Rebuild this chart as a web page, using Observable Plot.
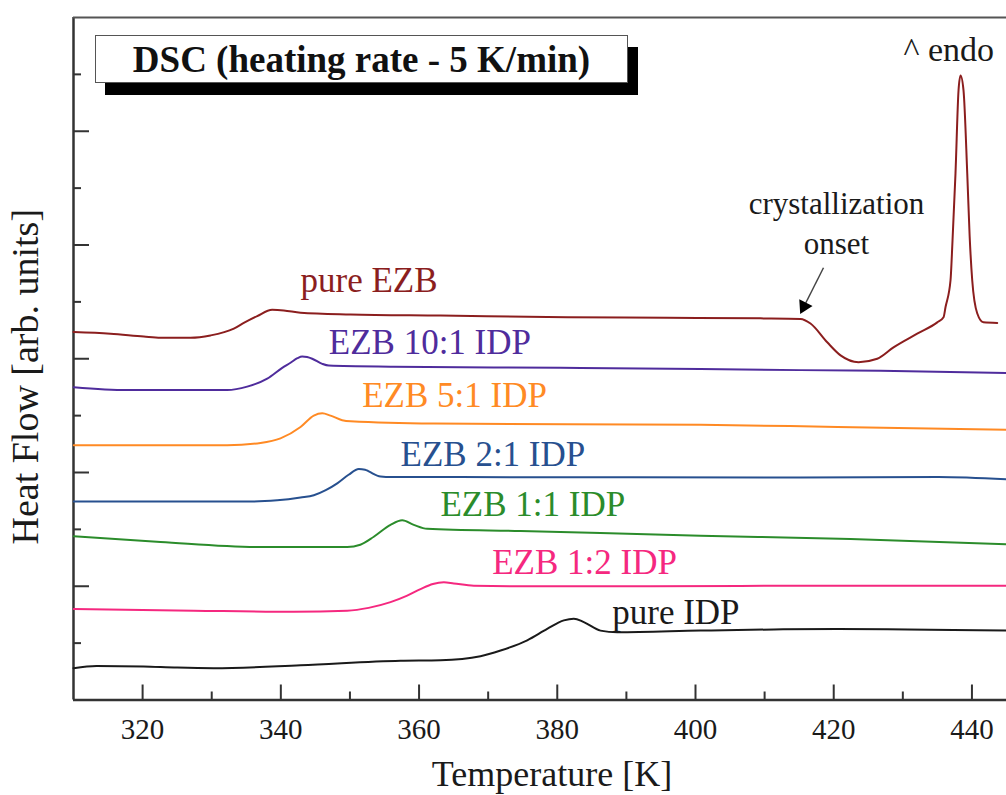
<!DOCTYPE html>
<html>
<head>
<meta charset="utf-8">
<script src="https://cdn.jsdelivr.net/npm/d3@7"></script>
<script src="https://cdn.jsdelivr.net/npm/@observablehq/plot@0.6"></script>
<style>
  body { margin: 0; background: #fff; }
  #wrap { position: relative; width: 1006px; height: 795px; overflow: hidden; background: #fff; }
  #titlebox {
    position: absolute; left: 95px; top: 35px; width: 533px; height: 48px; box-sizing: border-box;
    background: #fff; border: 1.5px solid #555; box-shadow: 10px 12px 0 #000;
    font-family: "Liberation Serif", "Times New Roman", serif; font-weight: bold; font-size: 37px;
    line-height: 48px; text-align: center; color: #111; white-space: nowrap;
  }
</style>
</head>
<body>
<div id="wrap"><div id="chart"></div><div id="titlebox">DSC (heating rate - 5 K/min)</div></div>
<script>
// ---- data (Temperature [K], Heat Flow [arb. units]) ----
const pureEZB_T  = [310.0, 315.35, 320.17, 322.59, 326.93, 329.82, 333.2, 334.64, 336.58, 338.75, 340.43, 342.85, 350.08, 363.10, 381.44, 395.95, 409.41, 415.20, 416.64, 419.06, 420.99, 423.59, 426.30, 428.65, 432.08, 434.98, 435.89, 436.18, 436.90, 437.19, 437.62, 438.06, 438.35, 438.78, 439.32, 439.67, 440.04, 440.76, 441.67, 443.66];
const pureEZB_HF = [6.47, 6.44, 6.39, 6.37, 6.37, 6.41, 6.53, 6.63, 6.75, 6.86, 6.85, 6.81, 6.78, 6.76, 6.73, 6.72, 6.71, 6.70, 6.62, 6.29, 6.06, 5.94, 6.00, 6.20, 6.44, 6.64, 6.73, 6.91, 7.38, 8.08, 9.26, 10.72, 10.98, 10.72, 9.26, 8.15, 7.38, 6.80, 6.64, 6.63];

const ezb10_T  = [310.04, 317.77, 332.24, 335.13, 338.03, 340.2, 341.4, 342.4, 343.09, 343.8, 344.54, 345.99, 346.94, 356.30, 380.47, 400.73, 415.20, 426.77, 445.0];
const ezb10_HF = [5.50, 5.45, 5.45, 5.51, 5.65, 5.84, 5.93, 6.01, 6.04, 6.03, 6.00, 5.91, 5.88, 5.86, 5.84, 5.82, 5.80, 5.79, 5.75];

const ezb5_T  = [310.04, 332.24, 337.06, 339.95, 342.85, 344.77, 345.99, 347.19, 348.88, 350.08, 362.13, 400.73, 420.55, 445.0];
const ezb5_HF = [4.48, 4.48, 4.52, 4.60, 4.80, 5.00, 5.04, 5.00, 4.92, 4.90, 4.86, 4.84, 4.80, 4.75];

const ezb2_T  = [310.04, 336.09, 339.47, 342.85, 344.77, 346.5, 348.16, 349.8, 351.28, 352.2, 352.73, 354.42, 356.0, 366.0, 415.20, 435.16, 445.0];
const ezb2_HF = [3.49, 3.49, 3.51, 3.56, 3.60, 3.69, 3.81, 3.96, 4.06, 4.05, 4.02, 3.93, 3.92, 3.92, 3.91, 3.92, 3.88];

const ezb1_T  = [310.04, 322.59, 337.06, 349.6, 351.5, 353.45, 355.87, 357.56, 359.24, 361.18, 374.68, 400.73, 422.43, 445.0];
const ezb1_HF = [2.88, 2.78, 2.69, 2.69, 2.73, 2.87, 3.08, 3.16, 3.08, 3.01, 2.97, 2.89, 2.83, 2.74];

const ezbHalf_T  = [310.04, 327.41, 341.88, 349.6, 352.7, 355.87, 358.2, 360.21, 362.0, 363.58, 365.03, 367.92, 374.68, 393.49, 415.20, 445.0];
const ezbHalf_HF = [1.60, 1.57, 1.55, 1.57, 1.62, 1.72, 1.83, 1.95, 2.04, 2.07, 2.05, 2.01, 2.00, 2.00, 2.01, 2.01];

const pureIDP_T  = [310.0, 313.33, 320.13, 325.0, 330.26, 342.85, 357.32, 363.10, 368.89, 371.8, 375.65, 378.54, 380.95, 382.39, 383.84, 386.25, 388.67, 400.73, 411.33, 420.55, 445.0];
const pureIDP_HF = [0.56, 0.60, 0.59, 0.57, 0.56, 0.61, 0.69, 0.70, 0.77, 0.87, 1.05, 1.25, 1.40, 1.43, 1.37, 1.22, 1.19, 1.22, 1.24, 1.25, 1.22];

const seriesNames  = ["pure EZB", "EZB 10:1 IDP", "EZB 5:1 IDP", "EZB 2:1 IDP", "EZB 1:1 IDP", "EZB 1:2 IDP", "pure IDP"];
const seriesT      = [pureEZB_T, ezb10_T, ezb5_T, ezb2_T, ezb1_T, ezbHalf_T, pureIDP_T];
const seriesHF     = [pureEZB_HF, ezb10_HF, ezb5_HF, ezb2_HF, ezb1_HF, ezbHalf_HF, pureIDP_HF];
const seriesColors = ["#8b1e1e", "#4f2c9c", "#ff8a24", "#27508f", "#2b8c2b", "#f5287f", "#1a1a1a"];

// curve label anchors (left end of text, baseline)
const labelT  = [342.85, 346.94, 351.77, 357.32, 363.10, 370.58, 387.95];
const labelHF = [7.17, 6.09, 5.15, 4.12, 3.24, 2.22, 1.34];

// axis ticks
const xMajorTicks = [320, 340, 360, 380, 400, 420, 440];
const xMinorTicks = [330, 350, 370, 390, 410, 430];
const yMajorTicks = [2, 4, 6, 8, 10];
const yMinorTicks = [1, 3, 5, 7, 9, 11];

// annotations
const annoText = ["crystallization", "onset"];
const annoT    = [420.40, 420.40];
const annoHF   = [8.55, 7.85];
const endoText = ["^ endo"];
const endoT    = [430.10];
const endoHF   = [11.24];
const arrowTail = {T: 418.52, HF: 7.60};
const arrowBase = {T: 415.95, HF: 6.98};
const arrowHead = {T: 415.70, HF: 6.92};

const serif = '"Liberation Serif", "Times New Roman", serif';
const axisColor = "#333";

const lineMarks = seriesNames.map((name, i) => {
  const rows = seriesT[i].map((t, j) => ({T: t, HF: seriesHF[i][j]}));
  return Plot.line(rows, {x: "T", y: "HF", stroke: seriesColors[i], strokeWidth: 2, curve: "monotone-x"});
});

const labelMarks = seriesNames.map((name, i) =>
  Plot.text([{T: labelT[i], HF: labelHF[i], s: name}], {
    x: "T", y: "HF", text: "s", fill: seriesColors[i], fontSize: 35,
    textAnchor: "start", lineAnchor: "bottom"
  })
);

const chart = Plot.plot({
  width: 1006,
  height: 795,
  marginLeft: 73,
  marginRight: 0,
  marginTop: 17,
  marginBottom: 95.5,
  x: {domain: [310, 445], label: null},
  y: {domain: [0, 12], label: null},
  style: {fontFamily: serif, background: "#fff", color: "#1a1a1a", overflow: "visible"},
  marks: [
    // frame
    Plot.ruleX([310], {stroke: axisColor, strokeWidth: 2.5}),
    Plot.ruleY([0], {stroke: axisColor, strokeWidth: 2.5}),
    Plot.ruleY([12], {stroke: "#555", strokeWidth: 2}),
    // inward ticks
    Plot.axisX({ticks: xMajorTicks, tickSize: -15, tickFormat: () => "", stroke: axisColor, strokeWidth: 2, label: null}),
    Plot.axisX({ticks: xMinorTicks, tickSize: -8, tickFormat: () => "", stroke: axisColor, strokeWidth: 2, label: null}),
    Plot.axisY({ticks: yMajorTicks, tickSize: -16, tickFormat: () => "", stroke: axisColor, strokeWidth: 2, label: null}),
    Plot.axisY({ticks: yMinorTicks, tickSize: -8, tickFormat: () => "", stroke: axisColor, strokeWidth: 2, label: null}),
    // tick labels
    Plot.axisX({ticks: xMajorTicks, tickSize: 0, tickPadding: 18, fontSize: 29, label: null, fill: "#1a1a1a"}),
    // axis titles
    Plot.text(["Temperature [K]"], {frameAnchor: "bottom", dx: 12, dy: 85.5, lineAnchor: "bottom", fontSize: 36, fill: "#1a1a1a"}),
    Plot.text(["Heat Flow [arb. units]"], {frameAnchor: "left", textAnchor: "middle", dx: -36, dy: 18, rotate: -90, lineAnchor: "bottom", fontSize: 38, fill: "#1a1a1a"}),
    // curves
    ...lineMarks,
    ...labelMarks,
    // annotations
    Plot.text(annoText.map((s, i) => ({s, T: annoT[i], HF: annoHF[i]})), {x: "T", y: "HF", text: "s", fontSize: 31, lineAnchor: "bottom", fill: "#1a1a1a"}),
    Plot.text(endoText.map((s, i) => ({s, T: endoT[i], HF: endoHF[i]})), {x: "T", y: "HF", text: "s", fontSize: 34, textAnchor: "start", lineAnchor: "bottom", fill: "#1a1a1a"}),
    Plot.link([{x1: arrowTail.T, y1: arrowTail.HF, x2: arrowBase.T, y2: arrowBase.HF}], {x1: "x1", y1: "y1", x2: "x2", y2: "y2", stroke: "#444", strokeWidth: 1.5}),
    Plot.dot([arrowHead], {x: "T", y: "HF", symbol: "triangle", r: 5.5, fill: "#000", stroke: "none", rotate: 206.6})
  ]
});

document.getElementById("chart").appendChild(chart);
</script>
</body>
</html>
